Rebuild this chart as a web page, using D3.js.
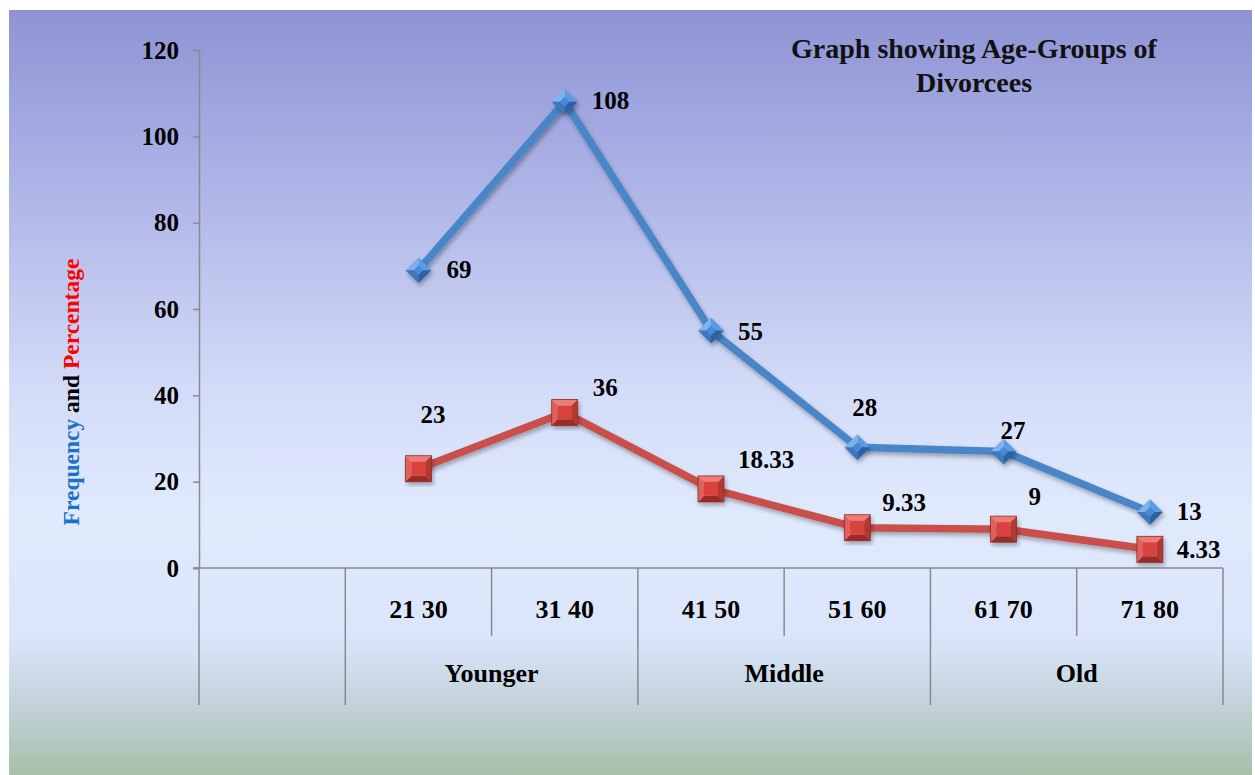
<!DOCTYPE html>
<html><head><meta charset="utf-8">
<script src="https://cdn.jsdelivr.net/npm/d3@7"></script>
<style>html,body{margin:0;padding:0;background:#fff;overflow:hidden}</style>
</head><body>
<svg id="c" width="1255" height="775"></svg>
<script>
const categories = ["", "21 30", "31 40", "41 50", "51 60", "61 70", "71 80"];
const ageCats = ["21 30", "31 40", "41 50", "51 60", "61 70", "71 80"];
const groups = [{name:"Younger", from:"21 30", to:"31 40"}, {name:"Middle", from:"41 50", to:"51 60"}, {name:"Old", from:"61 70", to:"71 80"}];
const frequency = [69, 108, 55, 28, 27, 13];
const percentage = [23, 36, 18.33, 9.33, 9, 4.33];
const yTicks = [0, 20, 40, 60, 80, 100, 120];
const titleLines = ["Graph showing Age-Groups of", "Divorcees"];
// label offsets (styling): [dx from point to text start, dy to baseline]
const freqLabelOff = [[28,8],[27,7],[27,9],[-5,-31],[-3,-12],[27,8]];
const pctLabelOff = [[2,-46],[28,-17],[27,-21],[25,-17],[25,-24],[27,9]];

const svg = d3.select("#c");
const font = "'Liberation Serif','Times New Roman',serif";
const defs = svg.append("defs");
const bg = defs.append("linearGradient").attr("id","bg").attr("x1",0).attr("y1",0).attr("x2",0).attr("y2",1);
[[0,"#8e93d4"],[0.25,"#b0b7e8"],[0.5,"#d3dcf8"],[0.66,"#e0eafd"],[0.82,"#dae5fb"],[0.9,"#c5d4dc"],[1,"#a8bea9"]].forEach(s=>bg.append("stop").attr("offset",s[0]).attr("stop-color",s[1]));
svg.append("rect").attr("x",9).attr("y",10).attr("width",1243).attr("height",765).attr("fill","url(#bg)");

const sh = defs.append("filter").attr("id","sh").attr("x","-20%").attr("y","-20%").attr("width","140%").attr("height","140%");
sh.append("feDropShadow").attr("dx",1.5).attr("dy",3).attr("stdDeviation",2).attr("flood-color","#000").attr("flood-opacity",0.3);

const x = d3.scaleBand().domain(categories).range([199,1223]).padding(0);
const y = d3.scaleLinear().domain([0,120]).range([568,50]);
const axisColor = "#8a8a8a";

// Y axis
const yAxis = svg.append("g").attr("transform","translate(199,0)")
  .call(d3.axisLeft(y).tickValues(yTicks).tickSize(6).tickPadding(14).tickFormat(d3.format("d")));
yAxis.select(".domain").attr("stroke",axisColor).attr("stroke-width",1.5);
yAxis.selectAll(".tick line").attr("stroke",axisColor).attr("stroke-width",1.5);
yAxis.selectAll(".tick text").attr("font-family",font).attr("font-weight","bold").attr("font-size",25).attr("fill","#000").attr("dy","0.32em");

// X axis baseline
svg.append("line").attr("x1",193).attr("x2",x.range()[1]).attr("y1",y(0)).attr("y2",y(0)).attr("stroke",axisColor).attr("stroke-width",1.5);
// dividers
const groupEdges = new Set([x(""), x(ageCats[0]), ...groups.map(g=>x(g.to)+x.bandwidth())]);
const boundaries = categories.map(c=>x(c)).concat([x.range()[1]]);
boundaries.forEach(b=>{
  const full = [...groupEdges].some(g=>Math.abs(g-b)<0.5);
  svg.append("line").attr("x1",b).attr("x2",b).attr("y1",y(0)).attr("y2",full?705:636).attr("stroke",axisColor).attr("stroke-width",1.5);
});
// category labels
svg.append("g").selectAll("text").data(ageCats).join("text")
  .attr("x",d=>x(d)+x.bandwidth()/2).attr("y",618).attr("text-anchor","middle")
  .attr("font-family",font).attr("font-weight","bold").attr("font-size",26).text(d=>d);
svg.append("g").selectAll("text").data(groups).join("text")
  .attr("x",d=>(x(d.from)+x(d.to)+x.bandwidth())/2).attr("y",682).attr("text-anchor","middle")
  .attr("font-family",font).attr("font-weight","bold").attr("font-size",26).text(d=>d.name);

// lines
const line = d3.line().x((d,i)=>x(ageCats[i])+x.bandwidth()/2).y(d=>y(d));
svg.append("path").datum(percentage).attr("d",line).attr("fill","none").attr("stroke","#c9504c").attr("stroke-width",7.5).attr("stroke-linejoin","round").attr("filter","url(#sh)");
svg.append("path").datum(frequency).attr("d",line).attr("fill","none").attr("stroke","#4a86c8").attr("stroke-width",7.5).attr("stroke-linejoin","round").attr("filter","url(#sh)");

// markers
function diamond(g, cx, cy){
  const r=13;
  const m = g.append("g").attr("transform",`translate(${cx},${cy})`).attr("filter","url(#sh)");
  const c=[0,0], t=[0,-r], rr=[r,0], b=[0,r], l=[-r,0];
  const f=(pts,col)=>m.append("polygon").attr("points",pts.map(p=>p.join(",")).join(" ")).attr("fill",col);
  f([t,rr,c],"#5b9be0"); f([l,t,c],"#7fb2ec"); f([l,b,c],"#3d78bf"); f([b,rr,c],"#2c62a4");
  m.append("polygon").attr("points","0,-5 5,0 0,5 -5,0").attr("fill","#4a8ad6");
}
function square(g, cx, cy){
  const r=13, i=7;
  const m = g.append("g").attr("transform",`translate(${cx},${cy})`).attr("filter","url(#sh)");
  const f=(pts,col)=>m.append("polygon").attr("points",pts.map(p=>p.join(",")).join(" ")).attr("fill",col);
  f([[-r,-r],[r,-r],[i,-i],[-i,-i]],"#f07a76");
  f([[-r,-r],[-i,-i],[-i,i],[-r,r]],"#e0615d");
  f([[r,-r],[r,r],[i,i],[i,-i]],"#b33833");
  f([[-r,r],[r,r],[i,i],[-i,i]],"#9c2c28");
  m.append("rect").attr("x",-i).attr("y",-i).attr("width",2*i).attr("height",2*i).attr("fill","#d9423e");
  m.append("rect").attr("x",-r).attr("y",-r).attr("width",2*r).attr("height",2*r).attr("fill","none").attr("stroke","#8e2a26").attr("stroke-width",0.8);
}
const mk = svg.append("g");
percentage.forEach((v,i)=>square(mk, x(ageCats[i])+x.bandwidth()/2, y(v)));
frequency.forEach((v,i)=>diamond(mk, x(ageCats[i])+x.bandwidth()/2, y(v)));

// data labels
const lab = svg.append("g").attr("font-family",font).attr("font-weight","bold").attr("font-size",25).attr("fill","#000");
frequency.forEach((v,i)=>lab.append("text").attr("x",x(ageCats[i])+x.bandwidth()/2+freqLabelOff[i][0]).attr("y",y(v)+freqLabelOff[i][1]).text(v));
percentage.forEach((v,i)=>lab.append("text").attr("x",x(ageCats[i])+x.bandwidth()/2+pctLabelOff[i][0]).attr("y",y(v)+pctLabelOff[i][1]).text(v));

// title
svg.append("g").selectAll("text").data(titleLines).join("text")
  .attr("x",974).attr("y",(d,i)=>58+i*34).attr("text-anchor","middle")
  .attr("font-family",font).attr("font-weight","bold").attr("font-size",28).attr("fill","#111").text(d=>d);

// y title
const yt = svg.append("text").attr("transform","translate(79,392) rotate(-90)").attr("text-anchor","middle")
  .attr("font-family",font).attr("font-weight","bold").attr("font-size",23.5);
yt.append("tspan").attr("fill","#1e72c6").text("Frequency");
yt.append("tspan").attr("fill","#000").text(" and ");
yt.append("tspan").attr("fill","#ff0000").text("Percentage");
</script>
</body></html>
